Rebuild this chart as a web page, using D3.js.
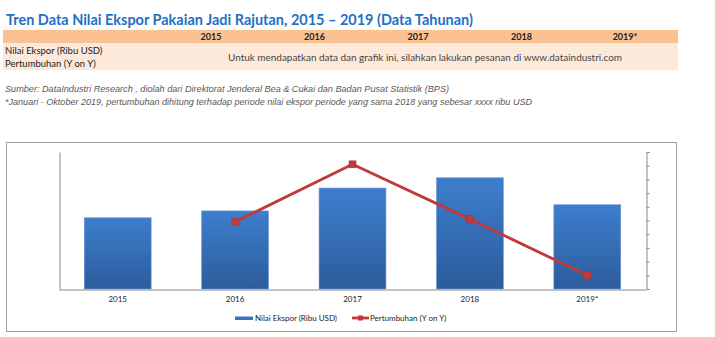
<!DOCTYPE html>
<html>
<head>
<meta charset="utf-8">
<script src="https://cdn.jsdelivr.net/npm/d3@7"></script>
<style>
  html, body { margin: 0; padding: 0; background: #fff; }
  svg { display: block; }
</style>
</head>
<body>
<svg id="chart" width="715" height="337"></svg>
<script>
// Categories and series
const years = ["2015", "2016", "2017", "2018", "2019*"];
const nilaiEkspor = [52, 57, 73.7, 81.2, 61.5];      // Nilai Ekspor (Ribu USD), relative units
const pertumbuhan = [null, 4.9, 9.1, 5.1, 1.0];      // Pertumbuhan (Y on Y), relative units
const rightTicks = [0, 1, 2, 3, 4, 5, 6, 7, 8, 9, 10];

const titleText = "Tren Data Nilai Ekspor Pakaian Jadi Rajutan, 2015 \u2013 2019 (Data Tahunan)";
const rowLabels = ["Nilai Ekspor (Ribu USD)", "Pertumbuhan (Y on Y)"];
const noticeText = "Untuk mendapatkan data dan grafik ini, silahkan lakukan pesanan di www.dataindustri.com";
const sourceText = "Sumber: DataIndustri Research , diolah dari Direktorat Jenderal Bea & Cukai dan  Badan Pusat Statistik (BPS)";
const noteText = "*Januari - Oktober 2019, pertumbuhan dihitung terhadap periode nilai ekspor periode yang sama 2018 yang sebesar xxxx ribu USD";
const legendLabels = ["Nilai Ekspor (Ribu USD)", "Pertumbuhan (Y on Y)"];

const svg = d3.select("#chart");
const sans = "Lato, 'Open Sans', sans-serif";
const arial = "'Liberation Sans', Arial, sans-serif";

// Title
svg.append("text")
  .attr("x", 6).attr("y", 25)
  .attr("font-family", sans).attr("font-weight", "bold").attr("font-size", 15)
  .attr("fill", "#1f6fc5")
  .attr("textLength", 467).attr("lengthAdjust", "spacingAndGlyphs")
  .text(titleText);

// Header table
svg.append("rect").attr("x", 3).attr("y", 30).attr("width", 675).attr("height", 13).attr("fill", "#fac191");
svg.append("rect").attr("x", 3).attr("y", 43).attr("width", 675).attr("height", 27).attr("fill", "#fde9d9");

const headerX = d3.scalePoint().domain(years).range([211, 625]);
svg.append("g").selectAll("text").data(years).join("text")
  .attr("x", d => headerX(d)).attr("y", 40)
  .attr("text-anchor", "middle")
  .attr("font-family", sans).attr("font-weight", "bold").attr("font-size", 9)
  .attr("fill", "#222")
  .text(d => d);

svg.append("g").selectAll("text").data(rowLabels).join("text")
  .attr("x", 5).attr("y", (d, i) => 53.5 + i * 13.5)
  .attr("font-family", sans).attr("font-size", 9.5)
  .attr("fill", "#222")
  .text(d => d);

svg.append("text")
  .attr("x", 425).attr("y", 60.5)
  .attr("text-anchor", "middle")
  .attr("font-family", sans).attr("font-size", 10)
  .attr("fill", "#444")
  .attr("textLength", 394).attr("lengthAdjust", "spacingAndGlyphs")
  .text(noticeText);

// Source notes
svg.append("text")
  .attr("x", 5).attr("y", 92)
  .attr("font-family", arial).attr("font-style", "italic").attr("font-size", 8.5)
  .attr("fill", "#595959")
  .attr("textLength", 444).attr("lengthAdjust", "spacingAndGlyphs")
  .text(sourceText);
svg.append("text")
  .attr("x", 5).attr("y", 105)
  .attr("font-family", arial).attr("font-style", "italic").attr("font-size", 8.5)
  .attr("fill", "#595959")
  .attr("textLength", 527).attr("lengthAdjust", "spacingAndGlyphs")
  .text(noteText);

// Chart frame
svg.append("rect")
  .attr("x", 6.5).attr("y", 142.5).attr("width", 670).attr("height", 189)
  .attr("fill", "#fff").attr("stroke", "#a0a0a0").attr("stroke-width", 1);

const plot = { left: 59, right: 646, top: 152, bottom: 289 };

const x = d3.scaleBand().domain(years)
  .range([plot.left, plot.right])
  .paddingInner(0.43).paddingOuter(0.215);
const yLeft = d3.scaleLinear().domain([0, 100]).range([plot.bottom, plot.top]);
const yRight = d3.scaleLinear().domain([0, 10]).range([plot.bottom, plot.top]);

// Bar gradient
const defs = svg.append("defs");
const grad = defs.append("linearGradient").attr("id", "barGrad")
  .attr("x1", 0).attr("y1", 0).attr("x2", 0).attr("y2", 1);
grad.append("stop").attr("offset", "0%").attr("stop-color", "#3d7ecd");
grad.append("stop").attr("offset", "100%").attr("stop-color", "#2c5c9c");

// Bars
svg.append("g").selectAll("rect").data(years).join("rect")
  .attr("x", d => x(d))
  .attr("y", (d, i) => yLeft(nilaiEkspor[i]))
  .attr("width", x.bandwidth())
  .attr("height", (d, i) => yLeft(0) - yLeft(nilaiEkspor[i]))
  .attr("fill", "url(#barGrad)")
  .attr("stroke", "#6f9ad6").attr("stroke-width", 0.6);

// Axes
const axisColor = "#8a8a8a";
const leftAxis = svg.append("g").attr("transform", `translate(${plot.left + 0.5},0)`)
  .call(d3.axisLeft(yLeft).tickValues([]).tickSize(0));
leftAxis.select(".domain").attr("stroke", axisColor);

const rightAxis = svg.append("g").attr("transform", `translate(${plot.right + 0.5},0)`)
  .call(d3.axisRight(yRight).tickValues(rightTicks).tickSize(3).tickFormat(""));
rightAxis.selectAll("path, line").attr("stroke", axisColor);

const bottomAxis = svg.append("g").attr("transform", `translate(0,${plot.bottom + 0.5})`)
  .call(d3.axisBottom(x).tickSize(0).tickPadding(7));
bottomAxis.select(".domain").attr("stroke", axisColor);
bottomAxis.selectAll("text")
  .attr("font-family", sans).attr("font-size", 8).attr("fill", "#222");

// Growth line
const pts = years.map((d, i) => ({ year: d, v: pertumbuhan[i] })).filter(p => p.v != null);
const line = d3.line()
  .x(p => x(p.year) + x.bandwidth() / 2)
  .y(p => yRight(p.v));
svg.append("path").datum(pts)
  .attr("d", line)
  .attr("fill", "none").attr("stroke", "#c0393b").attr("stroke-width", 2.8)
  .attr("stroke-linejoin", "round");
svg.append("g").selectAll("rect").data(pts).join("rect")
  .attr("x", p => x(p.year) + x.bandwidth() / 2 - 3.5)
  .attr("y", p => yRight(p.v) - 3.5)
  .attr("width", 7).attr("height", 7)
  .attr("fill", "#c0393b").attr("stroke", "#a83232").attr("stroke-width", 0.5);

// Legend
const legend = svg.append("g");
legend.append("rect").attr("x", 235).attr("y", 316.5).attr("width", 18).attr("height", 3.5)
  .attr("fill", "#3a73c0");
legend.append("text").attr("x", 255).attr("y", 321)
  .attr("font-family", sans).attr("font-size", 8).attr("fill", "#222")
  .text(legendLabels[0]);
legend.append("line").attr("x1", 352).attr("x2", 369).attr("y1", 318).attr("y2", 318)
  .attr("stroke", "#c0393b").attr("stroke-width", 2.8);
legend.append("rect").attr("x", 358).attr("y", 315.5).attr("width", 5).attr("height", 5)
  .attr("fill", "#c0393b");
legend.append("text").attr("x", 370).attr("y", 321)
  .attr("font-family", sans).attr("font-size", 8).attr("fill", "#222")
  .text(legendLabels[1]);
</script>
</body>
</html>
